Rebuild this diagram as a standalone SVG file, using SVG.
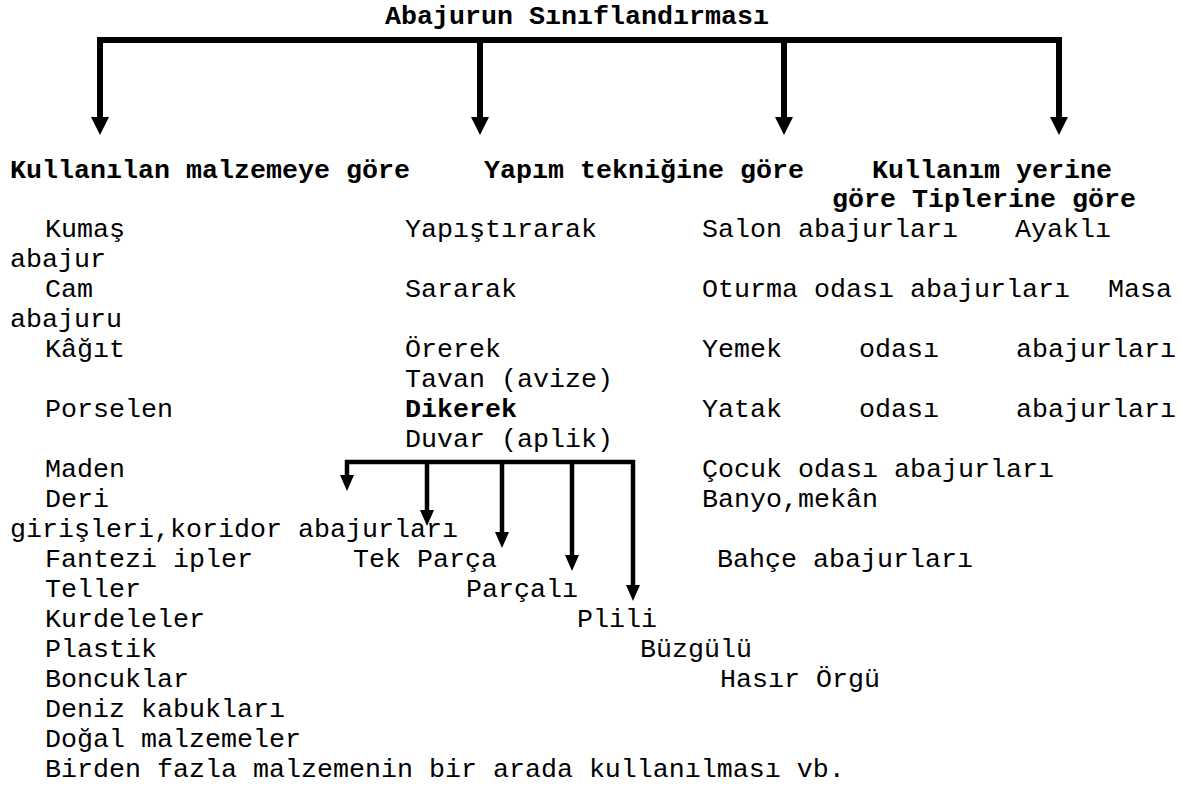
<svg xmlns="http://www.w3.org/2000/svg" width="1181" height="787" viewBox="0 0 1181 787">
<style>
text{font-family:"Liberation Mono","Courier New",monospace;font-size:26.67px;fill:#000}
.b{font-weight:bold}
.main{stroke:#000;stroke-width:6;fill:none}
.sub{stroke:#000;stroke-width:4.5;fill:none}
</style>
<defs>
<marker id="hm" markerUnits="userSpaceOnUse" markerWidth="19" markerHeight="19" refX="1" refY="9" orient="auto"><path d="M0,0 L18,9 L0,18 Z" fill="#000"/></marker>
<marker id="hs" markerUnits="userSpaceOnUse" markerWidth="17" markerHeight="15" refX="1" refY="7" orient="auto"><path d="M0,0 L16,7 L0,14 Z" fill="#000"/></marker>
</defs>
<rect width="1181" height="787" fill="#fff"/>
<g id="connectors">
<line class="main" x1="97" y1="40" x2="1062" y2="40"/>
<line class="main" x1="100" y1="37" x2="100" y2="118" marker-end="url(#hm)"/>
<line class="main" x1="480" y1="40" x2="480" y2="118" marker-end="url(#hm)"/>
<line class="main" x1="784" y1="40" x2="784" y2="118" marker-end="url(#hm)"/>
<line class="main" x1="1059" y1="37" x2="1059" y2="118" marker-end="url(#hm)"/>
<line class="sub" x1="345" y1="462" x2="635" y2="462"/>
<line class="sub" x1="347" y1="460" x2="347" y2="476" marker-end="url(#hs)"/>
<line class="sub" x1="427" y1="462" x2="427" y2="511" marker-end="url(#hs)"/>
<line class="sub" x1="502" y1="462" x2="502" y2="533" marker-end="url(#hs)"/>
<line class="sub" x1="572" y1="462" x2="572" y2="556" marker-end="url(#hs)"/>
<line class="sub" x1="633" y1="460" x2="633" y2="586" marker-end="url(#hs)"/>
</g>
<g id="title"><text class="b" x="385" y="24">Abajurun Sınıflandırması</text></g>
<g id="head-malzeme"><text class="b" x="10" y="178">Kullanılan malzemeye göre</text></g>
<g id="head-teknik"><text class="b" x="484" y="178">Yapım tekniğine göre</text></g>
<g id="head-yer-tip"><text class="b" x="872" y="178">Kullanım yerine</text><text class="b" x="832" y="207">göre Tiplerine göre</text></g>
<g id="items-malzeme">
<text x="45" y="237">Kumaş</text>
<text x="10" y="267">abajur</text>
<text x="45" y="297">Cam</text>
<text x="10" y="327">abajuru</text>
<text x="45" y="357">Kâğıt</text>
<text x="45" y="417">Porselen</text>
<text x="45" y="477">Maden</text>
<text x="45" y="507">Deri</text>
<text x="10" y="537">girişleri,koridor abajurları</text>
<text x="45" y="567">Fantezi ipler</text>
<text x="45" y="597">Teller</text>
<text x="45" y="627">Kurdeleler</text>
<text x="45" y="657">Plastik</text>
<text x="45" y="687">Boncuklar</text>
<text x="45" y="717">Deniz kabukları</text>
<text x="45" y="747">Doğal malzemeler</text>
<text x="45" y="777">Birden fazla malzemenin bir arada kullanılması vb.</text>
</g>
<g id="items-teknik">
<text x="405" y="237">Yapıştırarak</text>
<text x="405" y="297">Sararak</text>
<text x="405" y="357">Örerek</text>
<text class="b" x="405" y="417">Dikerek</text>
</g>
<g id="items-yer">
<text x="702" y="237">Salon abajurları</text>
<text x="702" y="297">Oturma odası abajurları</text>
<text x="702" y="357">Yemek</text><text x="859" y="357">odası</text><text x="1016" y="357">abajurları</text>
<text x="702" y="417">Yatak</text><text x="859" y="417">odası</text><text x="1016" y="417">abajurları</text>
<text x="702" y="477">Çocuk odası abajurları</text>
<text x="702" y="507">Banyo,mekân</text>
<text x="717" y="567">Bahçe abajurları</text>
</g>
<g id="items-tip">
<text x="1015" y="237">Ayaklı</text>
<text x="1108" y="297">Masa</text>
<text x="405" y="387">Tavan (avize)</text>
<text x="405" y="447">Duvar (aplik)</text>
</g>
<g id="items-yapim-tipi">
<text x="353" y="567">Tek Parça</text>
<text x="466" y="597">Parçalı</text>
<text x="577" y="627">Plili</text>
<text x="640" y="657">Büzgülü</text>
<text x="720" y="687">Hasır Örgü</text>
</g>
</svg>
